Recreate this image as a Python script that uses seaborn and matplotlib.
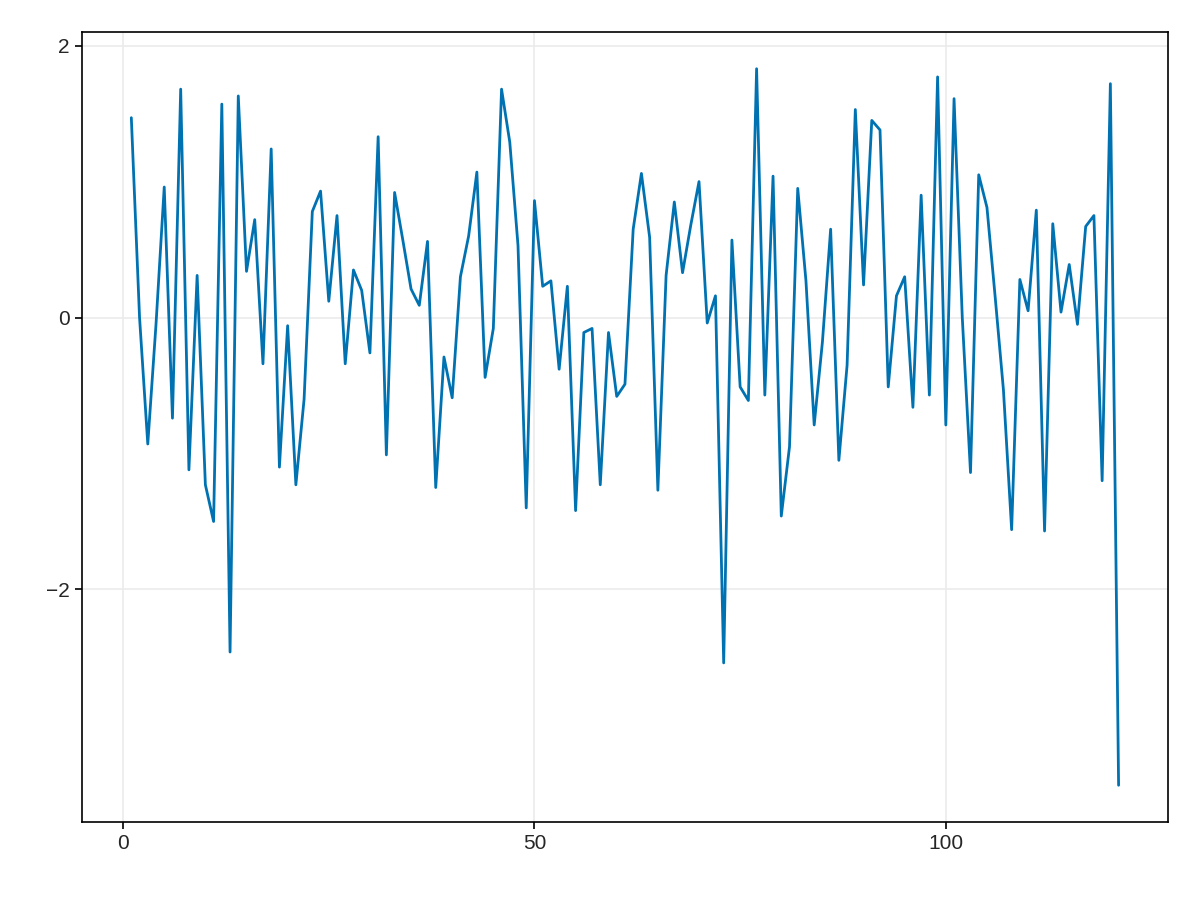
import numpy as np
import pandas as pd
import seaborn as sns
import matplotlib.pyplot as plt

values = [
    1.47, 0.0, -0.93, -0.05, 0.96, -0.74, 1.68, -1.12, 0.31, -1.23,
    -1.50, 1.57, -2.46, 1.63, 0.34, 0.72, -0.34, 1.24, -1.10, -0.06,
    -1.23, -0.60, 0.78, 0.93, 0.12, 0.75, -0.34, 0.35, 0.20, -0.26,
    1.33, -1.01, 0.92, 0.57, 0.21, 0.09, 0.56, -1.25, -0.29, -0.59,
    0.30, 0.60, 1.07, -0.44, -0.08, 1.68, 1.29, 0.53, -1.40, 0.86,
    0.23, 0.27, -0.38, 0.23, -1.42, -0.11, -0.08, -1.23, -0.11, -0.58,
    -0.49, 0.65, 1.06, 0.59, -1.27, 0.31, 0.85, 0.33, 0.68, 1.00,
    -0.04, 0.16, -2.54, 0.57, -0.51, -0.61, 1.83, -0.57, 1.04, -1.46,
    -0.95, 0.95, 0.27, -0.79, -0.18, 0.65, -1.05, -0.35, 1.53, 0.24,
    1.45, 1.38, -0.51, 0.16, 0.30, -0.66, 0.90, -0.57, 1.77, -0.79,
    1.61, 0.0, -1.14, 1.05, 0.81, 0.15, -0.53, -1.56, 0.28, 0.05,
    0.79, -1.57, 0.69, 0.04, 0.39, -0.05, 0.67, 0.75, -1.20, 1.72,
    -3.44,
]
xs = np.arange(1, len(values) + 1)
df = pd.DataFrame({'x': xs, 'y': values})

sns.set_theme(style="white")
plt.rcParams['font.family'] = ['Liberation Sans', 'DejaVu Sans']

fig = plt.figure(figsize=(12, 9), dpi=100)
ax = fig.add_axes([0.0683, 0.0867, 0.905, 0.8777])
sns.lineplot(data=df, x='x', y='y', ax=ax, color='#0072B2', linewidth=2)

ax.set_xlim(-5, 127)
ax.set_ylim(-3.71, 2.10)
ax.set_xticks([0, 50, 100])
ax.set_yticks([-2, 0, 2])
ax.set_yticklabels(['\u22122', '0', '2'])
ax.grid(True, color='#ebebeb', linewidth=1.2)
ax.set_axisbelow(True)
ax.set_xlabel('')
ax.set_ylabel('')
for s in ax.spines.values():
    s.set_color('black')
    s.set_linewidth(1.2)
ax.tick_params(axis='both', labelsize=15, length=5, width=1.2, direction='out',
               bottom=True, left=True, color='black', pad=4)

fig.savefig('out.png', dpi=100)
